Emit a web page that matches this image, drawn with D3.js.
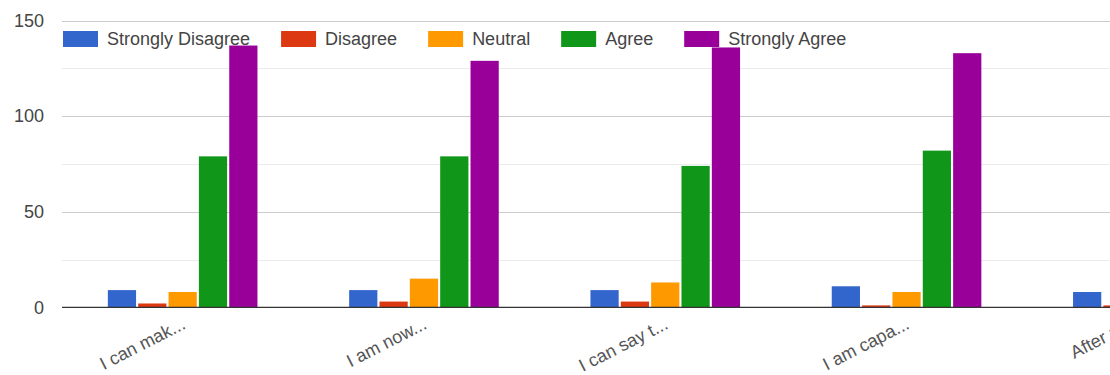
<!DOCTYPE html>
<html>
<head>
<meta charset="utf-8">
<script src="https://cdn.jsdelivr.net/npm/d3@7"></script>
<style>
  html, body { margin: 0; padding: 0; background: #fff; overflow: hidden; }
  svg { display: block; font-family: "Liberation Sans", Arial, sans-serif; }
</style>
</head>
<body>
<svg id="chart" width="1110" height="375"></svg>
<script>
// Survey statements (truncated as shown on the axis)
const categories = ["I can mak...", "I am now...", "I can say t...", "I am capa...", "After p..."];
const seriesNames = ["Strongly Disagree", "Disagree", "Neutral", "Agree", "Strongly Agree"];
const seriesColors = ["#3366cc", "#dc3912", "#ff9900", "#109618", "#990099"];

// Responses per statement, one array per answer option
const stronglyDisagree = [9, 9, 9, 11, 8];
const disagree         = [2, 3, 3, 1, 1];
const neutral          = [8, 15, 13, 8, 12];
const agree            = [79, 79, 74, 82, 80];
const stronglyAgree    = [137, 129, 136, 133, 134];

const yTicks = [0, 50, 100, 150];
const yMinorTicks = [25, 75, 125];

const seriesValues = [stronglyDisagree, disagree, neutral, agree, stronglyAgree];
const rows = categories.map((c, i) => ({
  category: c,
  values: seriesNames.map((s, j) => ({ key: s, value: seriesValues[j][i], color: seriesColors[j] }))
}));

const svg = d3.select("#chart");
const plotLeft = 62;
const groupStep = 241.3;

const x0 = d3.scaleBand()
  .domain(categories)
  .range([plotLeft, plotLeft + groupStep * categories.length])
  .paddingInner(0.38)
  .paddingOuter(0.19);

const x1 = d3.scaleBand()
  .domain(seriesNames)
  .range([0, x0.bandwidth()])
  .paddingInner(0.07);

const y = d3.scaleLinear().domain([0, 150]).range([307.3, 20.7]);

// Gridlines
svg.append("g").selectAll("line.minor")
  .data(yMinorTicks)
  .join("line")
  .attr("x1", plotLeft).attr("x2", 1110)
  .attr("y1", d => Math.round(y(d)) + 0.5).attr("y2", d => Math.round(y(d)) + 0.5)
  .attr("stroke", "#ebebeb").attr("stroke-width", 1);

svg.append("g").selectAll("line.major")
  .data(yTicks.filter(t => t !== 0))
  .join("line")
  .attr("x1", plotLeft).attr("x2", 1110)
  .attr("y1", d => Math.round(y(d)) + 0.5).attr("y2", d => Math.round(y(d)) + 0.5)
  .attr("stroke", "#cccccc").attr("stroke-width", 1);

// Y axis labels
const yAxis = d3.axisLeft(y).tickValues(yTicks).tickSize(0).tickPadding(0);
const yg = svg.append("g").attr("transform", "translate(44,0)").call(yAxis);
yg.select(".domain").remove();
yg.selectAll("text")
  .attr("fill", "#444")
  .style("font-size", "18px")
  .style("font-family", "'Liberation Sans', Arial, sans-serif");

// Bars
const groups = svg.append("g").selectAll("g")
  .data(rows)
  .join("g")
  .attr("transform", d => `translate(${x0(d.category)},0)`);

groups.selectAll("rect")
  .data(d => d.values)
  .join("rect")
  .attr("x", d => x1(d.key))
  .attr("width", x1.bandwidth())
  .attr("y", d => y(d.value))
  .attr("height", d => y(0) - y(d.value))
  .attr("fill", d => d.color);

// Baseline
svg.append("line")
  .attr("x1", plotLeft).attr("x2", 1110)
  .attr("y1", y(0)).attr("y2", y(0))
  .attr("stroke", "#333").attr("stroke-width", 1.3);

// Slanted category labels; the last one is nudged inward at the right edge
const xAxis = d3.axisBottom(x0).tickSize(0).tickPadding(0);
const xg = svg.append("g").call(xAxis);
xg.select(".domain").remove();
xg.selectAll(".tick text")
  .attr("transform", (d, i) => `translate(${i === categories.length - 1 ? -13 : 4},328) rotate(-27)`)
  .attr("y", 0).attr("dy", 0)
  .attr("text-anchor", "end")
  .attr("fill", "#555")
  .style("font-size", "18px")
  .style("font-family", "'Liberation Sans', Arial, sans-serif");

// Legend
const legend = svg.append("g");
let lx = 63;
seriesNames.forEach((name, i) => {
  legend.append("rect")
    .attr("x", lx).attr("y", 31)
    .attr("width", 35).attr("height", 16)
    .attr("fill", seriesColors[i]);
  const t = legend.append("text")
    .attr("x", lx + 44).attr("y", 45)
    .attr("fill", "#444")
    .style("font-size", "18px")
    .text(name);
  lx += 44 + t.node().getComputedTextLength() + 31;
});
</script>
</body>
</html>
